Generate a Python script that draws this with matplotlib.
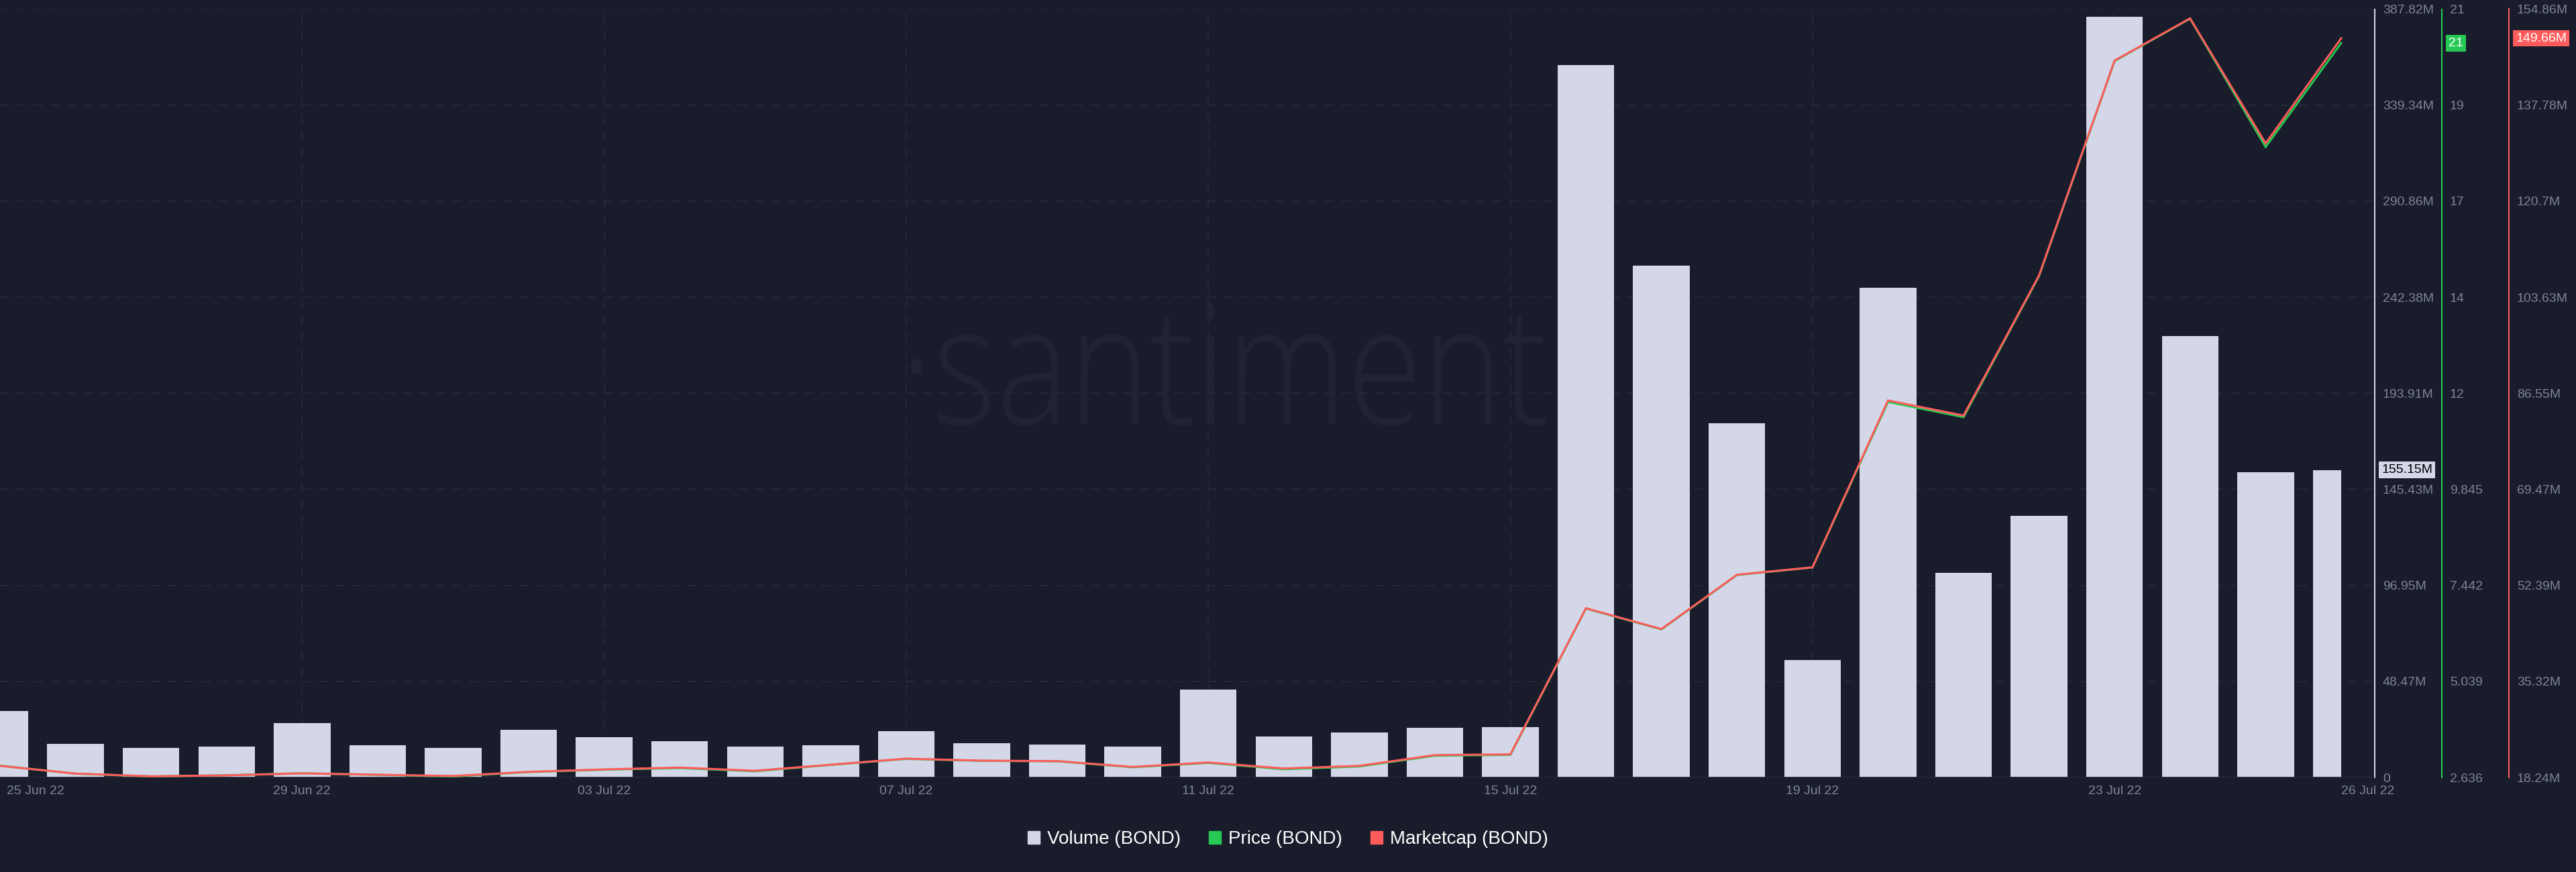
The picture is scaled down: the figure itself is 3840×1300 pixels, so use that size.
import numpy as np
import pandas as pd
import matplotlib
matplotlib.use("Agg")
import matplotlib.pyplot as plt
import matplotlib.transforms as mtransforms
from matplotlib.patches import Patch, Rectangle, PathPatch
from matplotlib.textpath import TextPath
from matplotlib.font_manager import FontProperties

# --- data (BOND, 25 Jun 22 - 26 Jul 22, daily) ---
dates = pd.date_range("2022-06-25", "2022-07-26", freq="D")

volume_m = [33.5, 16.9, 14.9, 15.7, 27.3, 16.1, 14.8, 24.0, 20.2, 18.2,
            15.7, 16.1, 23.2, 17.2, 16.5, 15.6, 44.2, 20.5, 22.7, 25.0,
            25.3, 359.7, 258.3, 178.8, 59.1, 247.0, 103.1, 132.2, 383.8, 222.9,
            154.2, 155.15]

price = [2.93, 2.73, 2.66, 2.69, 2.74, 2.70, 2.66, 2.77, 2.83, 2.87,
         2.79, 2.95, 3.10, 3.05, 3.04, 2.89, 3.00, 2.84, 2.91, 3.18,
         3.20, 6.86, 6.34, 7.70, 7.89, 12.03, 11.65, 15.18, 20.56, 21.62,
         18.41, 21.01]

marketcap_m = [20.30, 18.92, 18.44, 18.60, 18.96, 18.72, 18.50, 19.23, 19.67, 19.99,
               19.43, 20.50, 21.58, 21.22, 21.14, 20.11, 20.90, 19.83, 20.30, 22.21,
               22.35, 48.32, 44.62, 54.28, 55.59, 85.27, 82.58, 107.50, 145.70, 153.20,
               130.97, 149.66]

vol_range = (0, 387.82)
price_range = (2.636, 21.86)
mcap_range = (18.24, 154.86)

vol_tick_labels = ["0", "48.47M", "96.95M", "145.43M", "193.91M", "242.38M",
                   "290.86M", "339.34M", "387.82M"]
price_tick_labels = ["2.636", "5.039", "7.442", "9.845", "12", "14", "17", "19", "21"]
mcap_tick_labels = ["18.24M", "35.32M", "52.39M", "69.47M", "86.55M", "103.63M",
                    "120.7M", "137.78M", "154.86M"]

xtick_dates = ["2022-06-25", "2022-06-29", "2022-07-03", "2022-07-07", "2022-07-11",
               "2022-07-15", "2022-07-19", "2022-07-23", "2022-07-26"]

# --- style ---
BG = "#191c2b"
GRID = "#272b3c"
TICK = "#7d8497"
VOL_C = "#d3d7e8"
GREEN = "#26c953"
RED = "#ff5b5b"
WATERMARK = "#1f2334"

plt.rcParams["font.family"] = ["Liberation Sans", "DejaVu Sans"]

W, H, DPI = 3840, 1300, 100
fig = plt.figure(figsize=(W / DPI, H / DPI), dpi=DPI, facecolor=BG)

ax = fig.add_axes([0, (H - 1159) / H, 3540 / W, (1159 - 13.5) / H])
ax.patch.set_visible(False)
ax2 = ax.twinx()
ax3 = ax.twinx()

x = (dates - dates[0]).days.values
ax.set_xlim(0, 31.445)

# volume bars, clipped at the last day like the original
bars = ax.bar(x, volume_m, width=0.75, color=VOL_C, zorder=2)
clip = Rectangle((0, 0), x[-1], 1000, transform=ax.transData)
for b in bars:
    b.set_clip_path(clip)
ax.set_ylim(*vol_range)

ax2.plot(x, price, color=GREEN, lw=2.2, solid_joinstyle="miter")
ax2.set_ylim(*price_range)
ax3.plot(x, marketcap_m, color=RED, lw=2.2, solid_joinstyle="miter")
ax3.set_ylim(*mcap_range)

# grid
ax.set_axisbelow(True)
ax.grid(axis="y", color=GRID, lw=1.2, ls=(0, (8, 7)))
tick_x = [(pd.Timestamp(d) - dates[0]).days for d in xtick_dates]
for tx in tick_x[1:-1]:
    ax.axvline(tx, color=GRID, lw=1.2, ls=(0, (8, 7)), zorder=0.5)
ax.axhline(0, color="#2c3042", lw=2, zorder=3)

# y axes
for a, labels, rng in ((ax, vol_tick_labels, vol_range),
                       (ax2, price_tick_labels, price_range),
                       (ax3, mcap_tick_labels, mcap_range)):
    a.set_yticks(np.linspace(rng[0], rng[1], len(labels)), labels)
    a.yaxis.tick_right()
    a.tick_params(axis="y", length=0, pad=8.6, labelsize=14, labelcolor=TICK)
    a.tick_params(axis="x", bottom=False, labelbottom=False)
    for s in ("left", "top", "bottom"):
        a.spines[s].set_visible(False)
ax.spines["right"].set_color(VOL_C)
ax.spines["right"].set_linewidth(1.5)
ax2.spines["right"].set_position(("outward", 72))
ax2.spines["right"].set_color(GREEN)
ax2.spines["right"].set_linewidth(1.5)
ax3.spines["right"].set_position(("outward", 144))
ax3.spines["right"].set_color(RED)
ax3.spines["right"].set_linewidth(1.5)

# x labels
xt = mtransforms.blended_transform_factory(ax.transData, ax.transAxes)
for i, (d, tx) in enumerate(zip(xtick_dates, tick_x)):
    lbl = pd.Timestamp(d).strftime("%d %b %y")
    ha, dx = "center", 0
    if i == 0:
        ha, dx = "left", 10
    elif i == len(tick_x) - 1:
        dx = 40
    off = mtransforms.ScaledTranslation(dx / DPI, -21 / DPI, fig.dpi_scale_trans)
    ax.text(tx, 0, lbl, transform=xt + off, ha=ha, va="center",
            fontsize=14, color=TICK, clip_on=False)


def badge(a, value, text, fc, tc, offset_px):
    tr = mtransforms.blended_transform_factory(a.transAxes, a.transData) + \
        mtransforms.ScaledTranslation(offset_px / DPI, 0, fig.dpi_scale_trans)
    a.text(1.0, value, text, transform=tr, ha="left", va="center", fontsize=14,
           color=tc, clip_on=False, zorder=10,
           bbox=dict(boxstyle="square,pad=0.2", fc=fc, ec="none"))


badge(ax, volume_m[-1], f"{volume_m[-1]:.2f}M", VOL_C, "black", 10)
badge(ax2, price[-1], f"{price[-1]:.0f}", GREEN, "white", 110)
badge(ax3, marketcap_m[-1], f"{marketcap_m[-1]:.2f}M", RED, "white", 210)

# watermark
fp = FontProperties(family="Open Sans", weight="light")
tp = TextPath((0, 0), "·santiment", size=100, prop=fp)
ext = tp.get_extents()
wm_tr = mtransforms.Affine2D().translate(-ext.x0, -ext.y0) \
    .scale(945 / ext.width, 182 / ext.height).translate(1358, H - 635)
fig.add_artist(PathPatch(tp, transform=wm_tr, fc=WATERMARK, ec="none", zorder=-1))

# legend
handles = [Patch(color=VOL_C), Patch(color=GREEN), Patch(color=RED)]
fig.legend(handles, ["Volume (BOND)", "Price (BOND)", "Marketcap (BOND)"],
           loc="center", bbox_to_anchor=(0.5, 49 / H), ncol=3, frameon=False,
           fontsize=20, labelcolor="white", handlelength=0.65, handleheight=0.65,
           handletextpad=0.4, columnspacing=1.5)

fig.savefig("out.png", dpi=DPI, facecolor=BG)
